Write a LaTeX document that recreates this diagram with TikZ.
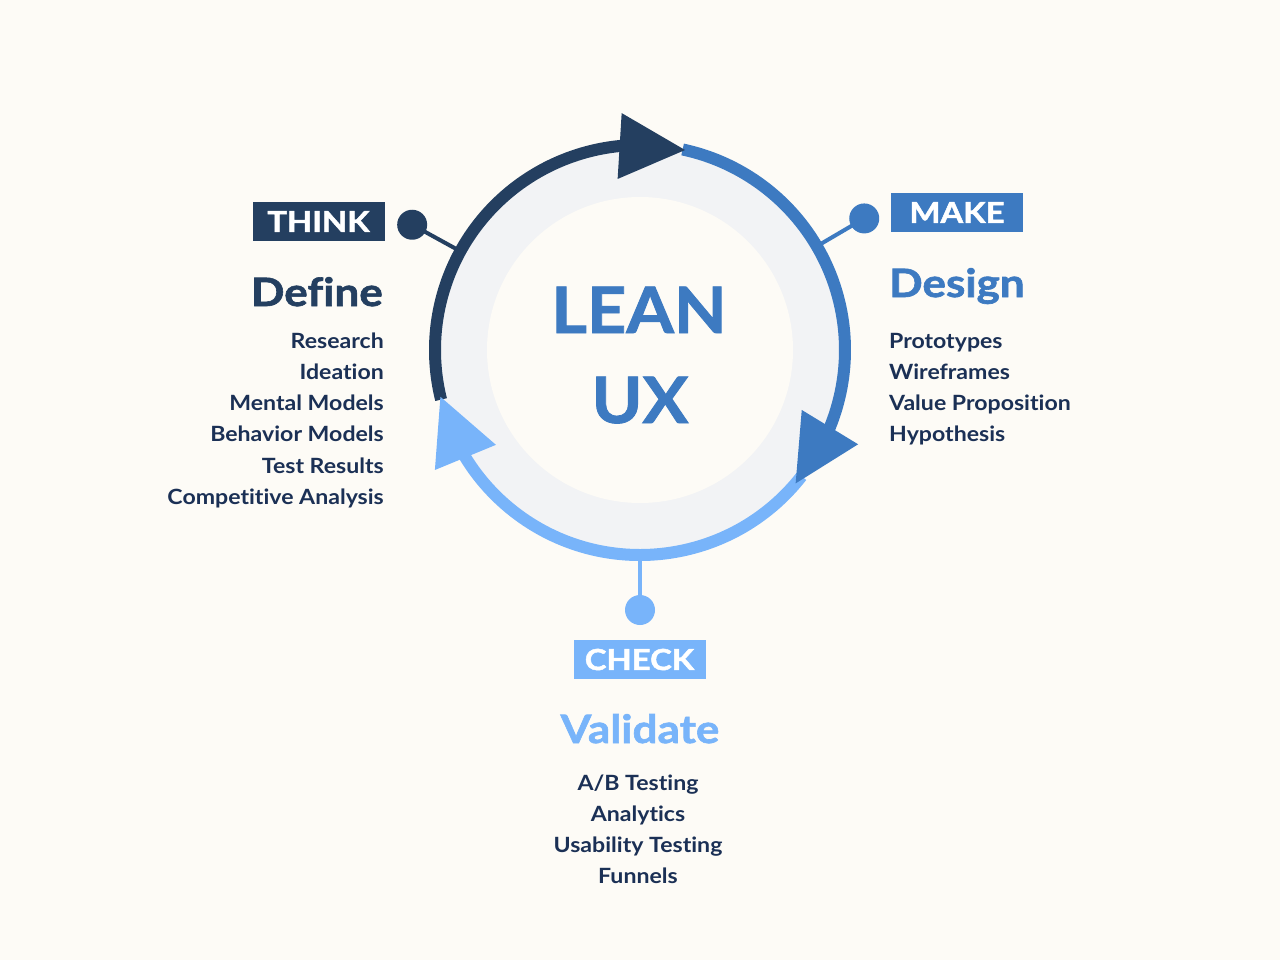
\documentclass[tikz,border=0pt]{standalone}
\usepackage{fontspec}
\setmainfont{Lato}[FakeStretch=1.1, Ligatures={NoCommon}]
\newfontfamily\headfont{Lato}[FakeStretch=1.13, Ligatures={NoCommon}, UprightFeatures={FakeBold=1.6}, BoldFeatures={FakeBold=1.6}]
\newfontfamily\bigfont{Lato}[FakeStretch=1.07, BoldFeatures={FakeBold=1.4}]
\usetikzlibrary{calc}
\definecolor{bgc}{HTML}{FDFBF6}
\definecolor{ringfill}{HTML}{F2F3F5}
\definecolor{navy}{HTML}{243F60}
\definecolor{midb}{HTML}{3D7AC1}
\definecolor{lightb}{HTML}{78B4FA}
\definecolor{itemc}{HTML}{1B3055}
\tikzset{
  ring/.style={line width=12pt},
  conn/.style={line width=4pt},
  dot/.style={circle, minimum size=30pt, inner sep=0pt},
  tag/.style={minimum width=132pt, minimum height=39pt, inner sep=0pt, text=white,
    font=\headfont\fontsize{29}{34}\selectfont\bfseries},
  heading/.style={inner sep=0pt, font=\headfont\fontsize{39}{46}\selectfont\bfseries},
  item/.style={inner sep=0pt, text=itemc, font=\fontsize{21}{25}\selectfont\bfseries},
  big/.style={inner sep=0pt, text=midb, font=\bigfont\fontsize{64}{70}\selectfont\bfseries}
}
\begin{document}
\begin{tikzpicture}[x=1pt,y=-1pt]
\useasboundingbox (0,0) rectangle (1280,960);
\fill[bgc] (0,0) rectangle (1280,960);
\coordinate (c) at (640,350);
\fill[ringfill] (c) circle[radius=205];
\fill[bgc] (c) circle[radius=153];
% arcs
\draw[ring, navy] ($(c)+(166:205)$) arc[start angle=166, end angle=270, radius=205];
\draw[ring, midb] ($(c)+(-78:205)$) arc[start angle=-78, end angle=28, radius=205];
\draw[ring, lightb] ($(c)+(38:205)$) arc[start angle=38, end angle=154, radius=205];
% arrowheads
\coordinate (tb) at ($(c)+(264.3:205)$);
\coordinate (tt) at ($(c)+(282.7:205)$);
\coordinate (rb) at ($(c)+(22.1:205)$);
\coordinate (rt) at ($(c)+(40.6:205)$);
\coordinate (lb) at ($(c)+(148.4:205)$);
\coordinate (lt) at ($(c)+(166.8:205)$);
\fill[navy] ($(tb)!33pt!90:(tt)$) -- (tt) -- ($(tb)!33pt!-90:(tt)$) -- cycle;
\fill[midb] ($(rb)!33pt!90:(rt)$) -- (rt) -- ($(rb)!33pt!-90:(rt)$) -- cycle;
\fill[lightb] ($(lb)!33pt!90:(lt)$) -- (lt) -- ($(lb)!33pt!-90:(lt)$) -- cycle;
% connectors and dots
\coordinate (r1) at ($(c)+(208.8:205)$);
\coordinate (r2) at ($(c)+(-30.4:205)$);
\coordinate (r3) at ($(c)+(90:205)$);
\node[dot, fill=navy] (d1) at ($(c)+(208.8:260)$) {};
\node[dot, fill=midb] (d2) at ($(c)+(-30.4:260)$) {};
\node[dot, fill=lightb] (d3) at ($(c)+(90:260)$) {};
\draw[conn, navy] (r1) -- (d1.center);
\draw[conn, midb] (r2) -- (d2.center);
\draw[conn, lightb] (r3) -- (d3.center);
% tags
\node[tag, fill=navy] (think) at (318.5,221.5) {THINK};
\node[tag, fill=midb] (make) at (957,212.5) {MAKE};
\node[tag, fill=lightb] (check) at (639.5,659.5) {CHECK};
% center text
\node[big, anchor=base] (lean) at (639,333) {LEAN};
\node[big, anchor=base] (ux) at (640,423) {UX};
% headings
\node[heading, text=navy, anchor=base east] (define) at (383,306) {Define};
\node[heading, text=midb, anchor=base west] (design) at (889,297) {Design};
\node[heading, text=lightb, anchor=base] (validate) at (640,743) {Validate};
% items
\foreach \t [count=\i] in {Research,Ideation,Mental Models,Behavior Models,Test Results,Competitive Analysis}
  \node[item, anchor=base east] (di\i) at (384,{348+31.3*(\i-1)}) {\t};
\foreach \t [count=\i] in {Prototypes,Wireframes,Value Proposition,Hypothesis}
  \node[item, anchor=base west] (mi\i) at (889,{348+31.3*(\i-1)}) {\t};
\foreach \t [count=\i] in {A/B Testing,Analytics,Usability Testing,Funnels}
  \node[item, anchor=base] (ci\i) at (638,{790+31*(\i-1)}) {\t};
\end{tikzpicture}
\end{document}
